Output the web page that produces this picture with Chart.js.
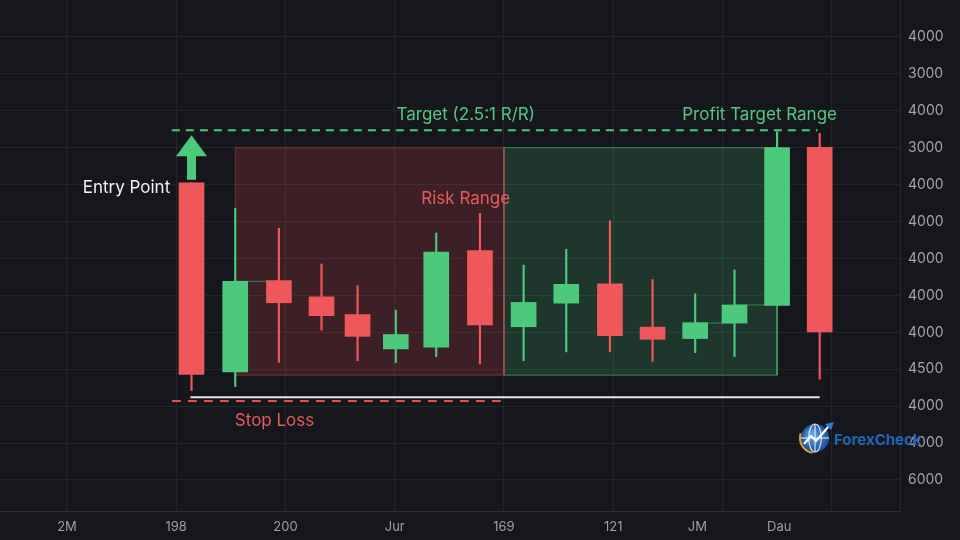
<!DOCTYPE html>
<html><head><meta charset="utf-8">
<script src="https://cdn.jsdelivr.net/npm/chart.js@4.4.1/dist/chart.umd.min.js"></script>
<style>html,body{margin:0;padding:0;background:#16171c;}canvas{display:block;}</style>
</head><body>
<canvas id="c" width="960" height="540"></canvas>
<script>
// ---- data ----
const candleX = [21.4,25.4,29.4,33.3,36.6,40.1,43.8,47.8,51.8,55.7,59.7,63.6,67.5,71.1,75.0,78.9];
const openV   = [805,293,540,496,448,355,360,621,415,479,531,414,383,425,473,901];
const highV   = [805,736,682,585,526,460,669,722,582,625,702,543,504,569,943,939];
const lowV    = [242,253,319,406,323,318,334,314,323,347,347,321,345,334,473,273];
const closeV  = [286,538,480,445,389,394,617,420,481,530,391,381,426,474,900,401];
const xLabelValues = [10,20,30,40,50,60,67.7,75.2];
const xLabels      = ['2M','198','200','Jur','169','121','JM','Dau'];
const xGridValues  = [10,20,30,40,50,60,70,80];
const yTickValues  = [0,100,200,300,400,500,600,700,800,900,1000,1100,1200];
const yTickLabels  = ['6000','4000','4000','4500','4000','4000','4000','4000','4000','3000','4000','3000','4000'];
const riskZone   = [25.4, 50.0, 900, 284];   // from, to, top, bottom
const profitZone = [50.0, 75.0, 900, 284];
const targetLine = [19.6, 78.7, 947];        // from, to, level
const stopLine   = [19.6, 50.3, 214];
const baseLine   = [21.3, 78.9, 224];
const connectors = [[25.4,29.4,538],[67.5,71.1,425],[71.1,75.0,474]];

// ---- styles ----
const BG = '#16171c';
const GREEN = '#4cc97a';
const RED = '#f0575a';
const GRID = '#23252c';
const isUp = i => closeV[i] >= openV[i];
const candleColors = candleX.map((_, i) => isUp(i) ? GREEN : RED);

const allXTicks = [...new Set([...xLabelValues, ...xGridValues])].sort((a,b)=>a-b);
const near = (a, b) => Math.abs(a - b) < 1e-6;

function hline(arr, color, dash, width, order) {
  return { type:'line', data:[{x:arr[0],y:arr[2]},{x:arr[1],y:arr[2]}],
    borderColor:color, borderWidth:width, borderDash:dash, pointRadius:0, fill:false, order };
}
function zoneFill(z, fillColor, order) {
  return { type:'line', data:[{x:z[0],y:z[2]},{x:z[1],y:z[2]}],
    borderWidth:0, borderColor:'transparent', backgroundColor:fillColor,
    fill:{value:z[3]}, pointRadius:0, order };
}
function zoneOutline(z, color, order) {
  return { type:'line', data:[{x:z[0],y:z[3]},{x:z[0],y:z[2]},{x:z[1],y:z[2]},{x:z[1],y:z[3]},{x:z[0],y:z[3]}],
    borderColor:color, borderWidth:1, pointRadius:0, fill:false, order };
}

const datasets = [
  hline(targetLine, GREEN, [8,6], 2, 1),
  hline(stopLine, '#e0504f', [9,7], 2, 1),
  hline(baseLine, '#e6e6e6', [], 2, 1),
  { type:'bar', data:candleX.map((x,i)=>({x, y:[openV[i], closeV[i]]})),
    backgroundColor:candleColors, barThickness:25, grouped:false, borderSkipped:false, order:2 },
  { type:'bar', data:candleX.map((x,i)=>({x, y:[lowV[i], highV[i]]})),
    backgroundColor:candleColors, barThickness:1.5, grouped:false, borderSkipped:false, order:3 },
  ...connectors.map(c => hline(c, 'rgba(76,201,122,0.55)', [], 1, 4)),
  zoneOutline(riskZone, 'rgba(220,70,80,0.45)', 5),
  zoneOutline(profitZone, 'rgba(76,201,122,0.6)', 5),
  zoneFill(riskZone, 'rgba(220,70,80,0.2)', 6),
  zoneFill(profitZone, 'rgba(70,200,120,0.18)', 6)
];

const annotate = {
  id:'annotate',
  beforeDraw(chart) {
    const {ctx, width, height} = chart;
    ctx.save(); ctx.fillStyle = BG; ctx.fillRect(0,0,width,height); ctx.restore();
  },
  afterDatasetsDraw(chart) {
    const {ctx, scales:{x, y}} = chart;
    ctx.save();
    // entry arrow
    const ax = x.getPixelForValue(candleX[0]);
    const base = y.getPixelForValue(highV[0]) - 3;
    const tip = y.getPixelForValue(targetLine[2]) + 5;
    const headBase = tip + 21;
    ctx.fillStyle = GREEN;
    ctx.fillRect(ax - 4.5, headBase - 1, 9, base - headBase + 1);
    ctx.beginPath();
    ctx.moveTo(ax, tip); ctx.lineTo(ax + 15.5, headBase); ctx.lineTo(ax - 15.5, headBase); ctx.closePath();
    ctx.fill();
    // texts
    ctx.font = '17px Inter, "Noto Sans", sans-serif';
    ctx.textBaseline = 'middle';
    const text = (s, vx, vy, color, align) => {
      ctx.fillStyle = color; ctx.textAlign = align;
      ctx.fillText(s, x.getPixelForValue(vx), y.getPixelForValue(vy) + 1.5);
    };
    text('Target (2.5:1 R/R)', 46.5, 993, '#55c77f', 'center');
    text('Profit Target Range', 73.4, 993, '#55c77f', 'center');
    text('Entry Point', 19.45, 796, '#f2f2f2', 'right');
    text('Risk Range', 46.5, 766, '#e85a5c', 'center');
    text('Stop Loss', 29.0, 165, '#e85a5c', 'center');
    ctx.restore();
  },
  afterDraw(chart) {
    const {ctx} = chart;
    ctx.save();
    // watermark logo
    const cx = 815, cy = 438, r = 14;
    const g = ctx.createRadialGradient(cx-4, cy-4, 2, cx, cy, r);
    g.addColorStop(0, '#5aa0e8'); g.addColorStop(1, '#1c4f98');
    ctx.fillStyle = g;
    ctx.beginPath(); ctx.arc(cx, cy, r, 0, Math.PI*2); ctx.fill();
    ctx.strokeStyle = '#d9a62e'; ctx.lineWidth = 2;
    ctx.beginPath(); ctx.arc(cx, cy, r + 1, Math.PI*0.55, Math.PI*1.1); ctx.stroke();
    ctx.strokeStyle = 'rgba(255,255,255,0.8)'; ctx.lineWidth = 1.2;
    ctx.beginPath(); ctx.ellipse(cx, cy, r*0.45, r, 0, 0, Math.PI*2); ctx.stroke();
    ctx.beginPath(); ctx.moveTo(cx - r, cy); ctx.lineTo(cx + r, cy); ctx.stroke();
    ctx.beginPath(); ctx.moveTo(cx, cy - r); ctx.lineTo(cx, cy + r); ctx.stroke();
    ctx.strokeStyle = '#ffffff'; ctx.lineWidth = 2.2;
    ctx.beginPath(); ctx.moveTo(cx - 11, cy + 6); ctx.lineTo(cx - 4, cy - 2); ctx.lineTo(cx + 1, cy + 3); ctx.lineTo(cx + 14, cy - 12); ctx.stroke();
    ctx.fillStyle = '#2a77d6';
    ctx.beginPath(); ctx.moveTo(cx + 19, cy - 16); ctx.lineTo(cx + 10, cy - 14); ctx.lineTo(cx + 16, cy - 8); ctx.closePath(); ctx.fill();
    ctx.font = 'bold 15px Inter, "Noto Sans", sans-serif';
    ctx.textBaseline = 'middle'; ctx.textAlign = 'left';
    ctx.fillStyle = '#2266b8';
    ctx.fillText('ForexCheck', 834, 440);
    ctx.restore();
  }
};

new Chart(document.getElementById('c'), {
  type:'bar',
  data:{ datasets },
  options:{
    responsive:false, animation:false,
    layout:{ padding:0 },
    plugins:{ legend:{display:false}, tooltip:{enabled:false} },
    scales:{
      x:{
        type:'linear', position:'bottom', min:3.87, max:86.25, offset:false,
        afterBuildTicks: axis => { axis.ticks = allXTicks.map(v => ({value:v})); },
        afterFit: axis => { axis.height = 29; axis.paddingLeft = 0; axis.paddingRight = 0; },
        grid:{ offset:false, drawTicks:false,
          color: ctx => (ctx.tick && xGridValues.some(v => near(v, ctx.tick.value))) ? GRID : 'transparent' },
        border:{ display:true, color:'#2c2e36', width:1 },
        ticks:{ autoSkip:false, maxRotation:0, padding:8, color:'#9c9ea6',
          font:{ family:'Inter, "Noto Sans", sans-serif', size:13 },
          callback: v => { const i = xLabelValues.findIndex(t => near(t, v)); return i >= 0 ? xLabels[i] : ''; } }
      },
      y:{
        type:'linear', position:'right', min:-84, max:1300,
        afterBuildTicks: axis => { axis.ticks = yTickValues.map(v => ({value:v})); },
        afterFit: axis => { axis.width = 60; axis.paddingTop = 0; axis.paddingBottom = 0; },
        grid:{ color:GRID, drawTicks:false },
        border:{ display:true, color:'#24262d', width:1 },
        ticks:{ padding:8, color:'#a2a4ab',
          font:{ family:'Inter, "Noto Sans", sans-serif', size:14 },
          callback: v => { const i = yTickValues.indexOf(v); return i >= 0 ? yTickLabels[i] : ''; } }
      }
    }
  },
  plugins:[annotate]
});
</script>
</body></html>
